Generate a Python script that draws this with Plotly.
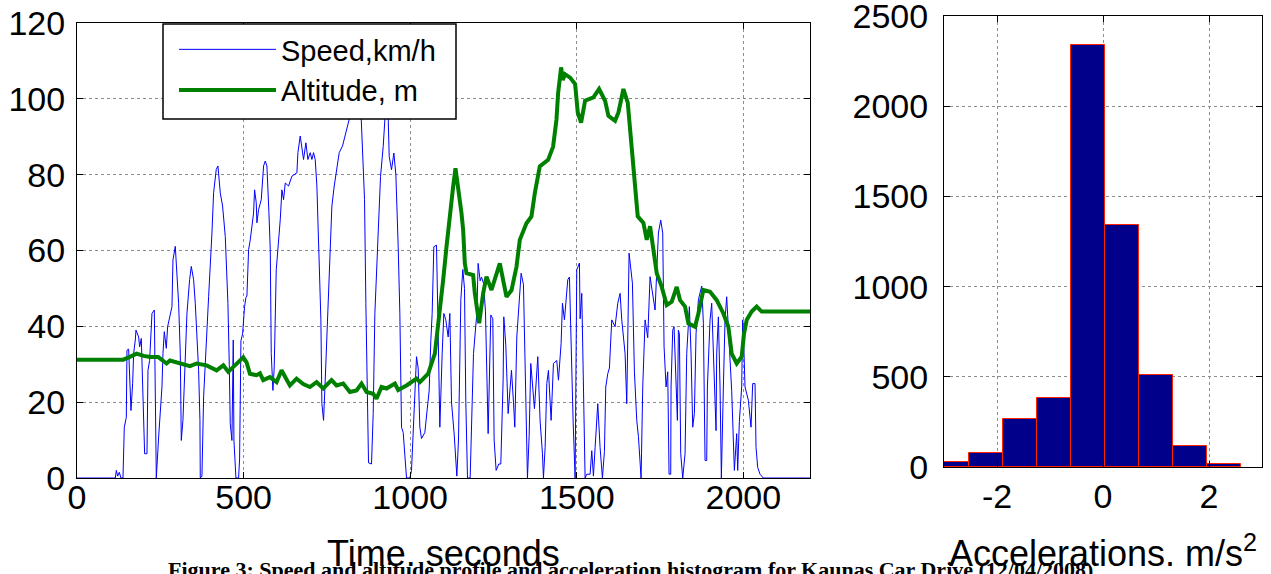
import plotly.graph_objects as go

# ---------------- data ----------------
speed_t = [0, 115, 118, 122, 127, 132, 138, 142, 148, 150, 155, 160, 162, 167, 170, 175, 177, 185, 188, 193, 196, 203, 210, 213, 218, 225, 232, 236, 238, 245, 255, 258, 262, 268, 272, 285, 288, 295, 300, 305, 310, 313, 318, 325, 330, 338, 343, 350, 355, 365, 369, 370, 375, 380, 388, 395, 405, 410, 418, 423, 430, 437, 445, 453, 457, 460, 465, 469, 471, 477, 485, 488, 492, 497, 503, 507, 510, 515, 520, 530, 533, 538, 540, 545, 553, 560, 565, 570, 576, 580, 583, 585, 588, 592, 598, 610, 615, 620, 625, 635, 645, 660, 663, 670, 675, 680, 687, 693, 700, 705, 710, 715, 720, 725, 732, 735, 740, 745, 753, 758, 765, 772, 780, 787, 797, 805, 813, 817, 825, 845, 853, 863, 867, 872, 875, 884, 889, 894, 904, 911, 919, 924, 930, 934, 937, 944, 951, 957, 964, 969, 974, 979, 989, 999, 1004, 1012, 1019, 1024, 1029, 1034, 1044, 1051, 1057, 1062, 1066, 1071, 1079, 1083, 1087, 1089, 1096, 1101, 1107, 1114, 1119, 1124, 1132, 1140, 1145, 1152, 1158, 1163, 1167, 1172, 1180, 1186, 1190, 1200, 1204, 1210, 1214, 1220, 1226, 1234, 1242, 1248, 1252, 1258, 1266, 1272, 1279, 1281, 1287, 1294, 1304, 1310, 1314, 1320, 1333, 1340, 1347, 1352, 1357, 1362, 1373, 1383, 1390, 1397, 1400, 1405, 1410, 1415, 1423, 1430, 1440, 1445, 1453, 1457, 1463, 1473, 1478, 1483, 1489, 1495, 1500, 1508, 1510, 1515, 1520, 1525, 1530, 1540, 1545, 1550, 1555, 1563, 1570, 1577, 1583, 1587, 1593, 1598, 1605, 1615, 1623, 1630, 1635, 1645, 1650, 1657, 1667, 1673, 1680, 1685, 1693, 1698, 1705, 1713, 1720, 1730, 1735, 1745, 1752, 1758, 1762, 1768, 1773, 1777, 1782, 1783, 1785, 1788, 1792, 1802, 1805, 1808, 1812, 1818, 1825, 1830, 1838, 1843, 1848, 1853, 1858, 1865, 1875, 1880, 1885, 1890, 1892, 1900, 1905, 1912, 1918, 1920, 1925, 1930, 1934, 1940, 1945, 1950, 1960, 1965, 1973, 1980, 1983, 1988, 1995, 1998, 2002, 2005, 2015, 2023, 2028, 2035, 2038, 2043, 2050, 2060, 2200]
speed_v = [0, 0, 2, 0.5, 1.5, 0, 0, 13.4, 16, 33.7, 34, 24, 17.8, 24.9, 32.8, 36.4, 39, 37.2, 34.6, 36.8, 27.5, 6.4, 6.4, 28.4, 31, 43.4, 44.3, 11.7, 0, 10.8, 24, 32.8, 38.6, 34.2, 39.9, 45.2, 57.5, 61.1, 54.9, 46.1, 32.8, 9.9, 15.2, 32.8, 43.4, 52.3, 55.8, 52.3, 46.1, 28.4, 15.2, 0, 0.5, 21.4, 37.2, 47.8, 64.6, 75.2, 81.4, 82.3, 75.2, 71.7, 63.7, 46, 30, 14.3, 9.9, 36.4, 10, 0, 0, 5, 36.2, 38, 45.2, 47.6, 48, 60.2, 62.8, 69.9, 76, 72.6, 67.3, 70.8, 73.4, 82.3, 83.6, 82.3, 70, 60.2, 32.8, 27.5, 23.1, 29.3, 54.9, 68.1, 76, 73.4, 77.8, 77, 79.6, 80.5, 85.8, 90.2, 87.6, 84, 88.4, 84, 85.8, 84, 85.8, 84, 77, 59.3, 41.7, 19.6, 15.2, 25.8, 45.2, 59.3, 71.7, 77, 82.3, 85.8, 87.6, 90.2, 92.9, 94.6, 99, 100, 95, 73.4, 46, 17.8, 4, 3.7, 17, 43.4, 65.4, 79.5, 87.4, 94.5, 99, 95, 84.8, 81.3, 85.7, 80, 61, 43.4, 13.4, 12, 0, 0, 2, 20, 32, 29, 13.4, 10.4, 12, 18, 23, 36.3, 43.4, 61, 61.4, 43.4, 25.8, 13.4, 32.8, 43.4, 41.7, 37.2, 43.4, 20, 11.6, 0.5, 10, 47, 55, 50, 20, 0, 0, 20, 32.8, 43.4, 56.6, 52, 53, 51.4, 44, 11.7, 43, 42, 10, 2, 3.7, 3.7, 25.8, 42.5, 35, 17, 28.4, 20, 13.4, 37.2, 54, 51, 15.2, 0, 11, 30.2, 18.3, 32, 15, 6.4, 0, 8, 24.9, 28.4, 15.2, 30.2, 31, 25.8, 35.5, 46.1, 41.7, 52.3, 53, 32.8, 15, 0, 54.9, 56.7, 42, 48.7, 20, 0, 1, 1, 7.2, 0.5, 8, 19.6, 8, 0, 7, 24, 27.5, 29, 41.7, 39.9, 46.1, 48.7, 41.7, 32.8, 19.6, 59.3, 51.4, 28, 15.2, 11, 0, 24, 41.7, 37, 53.1, 47.8, 44.3, 64.6, 68, 64.6, 34.6, 24, 28, 1, 1, 24, 30, 39, 39.9, 15.2, 39, 38, 6.4, 0, 6.4, 32.8, 45.2, 32.8, 13.4, 17, 38.1, 47, 50.6, 40.8, 4.6, 4.6, 24, 41.7, 46.1, 25.8, 12.5, 33, 42.5, 24, 0, 24, 41.7, 47.8, 32.8, 23, 2, 11.7, 2, 15, 24, 41.7, 32.8, 24, 20.5, 13.4, 24.9, 24.9, 8.1, 2.8, 1, 0, 0]

alt_t = [0, 139, 160, 179, 200, 219, 244, 269, 279, 309, 339, 359, 389, 419, 439, 454, 479, 499, 509, 519, 539, 549, 559, 579, 599, 614, 629, 639, 659, 679, 699, 719, 739, 764, 779, 799, 819, 839, 854, 869, 889, 899, 914, 929, 954, 964, 989, 1019, 1029, 1054, 1074, 1089, 1099, 1109, 1119, 1129, 1136, 1144, 1154, 1159, 1164, 1169, 1189, 1194, 1204, 1207, 1219, 1229, 1244, 1254, 1269, 1279, 1289, 1304, 1319, 1329, 1349, 1364, 1374, 1389, 1414, 1429, 1439, 1444, 1453, 1458, 1465, 1480, 1495, 1503, 1513, 1525, 1550, 1567, 1585, 1595, 1615, 1625, 1640, 1653, 1660, 1667, 1675, 1683, 1700, 1710, 1720, 1730, 1740, 1755, 1770, 1785, 1800, 1810, 1825, 1835, 1855, 1865, 1880, 1900, 1920, 1940, 1955, 1965, 1980, 1995, 2002, 2010, 2025, 2040, 2055, 2200]
alt_v = [31.2, 31.2, 32, 32.8, 32.2, 31.9, 31.9, 30.2, 31, 30.2, 29.5, 30.2, 29.7, 28.4, 29.7, 28, 30, 31.8, 30.5, 27.5, 27.1, 27.6, 25.8, 26.6, 25.3, 28.4, 26, 24.4, 26.2, 24.8, 24, 25.3, 23.6, 25.8, 24.4, 24.9, 22.7, 23.1, 24.9, 22.7, 22.2, 20.9, 24, 23.6, 24.9, 23.2, 24.4, 26.2, 25.3, 27.5, 32.8, 43.4, 52.2, 61, 69.8, 76.9, 81.7, 76.9, 69.8, 65.4, 56.6, 54, 53.5, 48.7, 43.4, 40.8, 48.7, 53.1, 49.6, 52.2, 56.6, 52.2, 47.8, 49.5, 55.7, 62.8, 67.2, 69, 75.1, 82.2, 83.9, 87.4, 94.5, 101.5, 108.3, 105, 106.5, 105.6, 103.9, 96.4, 93.7, 99.5, 100.4, 102.6, 99.5, 95.5, 94.2, 96.4, 102.6, 99, 92, 84.9, 77, 69, 67.3, 62.8, 66.4, 59.3, 54, 50.4, 45.6, 46.5, 50.4, 46.9, 45.2, 40.8, 39.9, 43.4, 49.6, 49.1, 46.9, 43.4, 39.9, 32.8, 30.2, 32, 38.1, 41.7, 43.9, 45.2, 43.9, 43.9]

acc_centers = [-2.841, -2.201, -1.561, -0.922, -0.282, 0.358, 0.998, 1.638, 2.277]
acc_counts = [26, 77, 267, 380, 2340, 1342, 508, 117, 14]
acc_bin_width = 0.64

time_ticks = [0, 500, 1000, 1500, 2000]
left_y_ticks = [0, 20, 40, 60, 80, 100, 120]
acc_ticks = [-2, 0, 2]
acc_tick_text = ["-2", "0", "2"]
count_ticks = [0, 500, 1000, 1500, 2000, 2500]

caption = ("Figure 3: Speed and altitude profile and acceleration histogram "
           "for Kaunas Car Drive (12/04/2008)")

# ---------------- figure ----------------
W, H = 1271, 574
FONT = "Liberation Sans, Arial, sans-serif"


def px(x):
    return x / W


def py(y):
    return (H - y) / H


fig = go.Figure()
fig.add_trace(go.Scatter(x=speed_t, y=speed_v, mode="lines", name="Speed,km/h",
                         line=dict(color="#0000FF", width=1), xaxis="x", yaxis="y"))
fig.add_trace(go.Scatter(x=alt_t, y=alt_v, mode="lines", name="Altitude, m",
                         line=dict(color="#008000", width=4), xaxis="x", yaxis="y"))
fig.add_trace(go.Bar(x=acc_centers, y=acc_counts, width=acc_bin_width,
                     marker=dict(color="#00008B", line=dict(color="#FF2000", width=1)),
                     showlegend=False, xaxis="x2", yaxis="y2"))

axis_common = dict(showline=True, linecolor="black", linewidth=1, mirror="ticks",
                   ticks="inside", ticklen=6, tickcolor="black", automargin=False,
                   ticklabeloverflow="allow",
                   showgrid=True, gridcolor="#8c8c8c", griddash="dot", gridwidth=1,
                   zeroline=False, tickfont=dict(family=FONT, size=34, color="black"))

fig.update_layout(
    width=W, height=H, margin=dict(l=0, r=0, t=0, b=0, autoexpand=False),
    paper_bgcolor="white", plot_bgcolor="white", bargap=0,
    xaxis=dict(domain=[px(77), px(810)], range=[0, 2200], tickvals=time_ticks,
               anchor="y", ticklabelstandoff=-11, **axis_common),
    yaxis=dict(domain=[py(478), py(23)], range=[0, 120], tickvals=left_y_ticks,
               anchor="x", ticklabelstandoff=4, **axis_common),
    xaxis2=dict(domain=[px(944), px(1262)], range=[-3, 3], tickvals=acc_ticks,
                ticktext=acc_tick_text, anchor="y2", ticklabelstandoff=-1, **axis_common),
    yaxis2=dict(domain=[py(467), py(16)], range=[0, 2500], tickvals=count_ticks,
                anchor="x2", ticklabelstandoff=8, **axis_common),
    legend=dict(x=px(174), y=py(24), xanchor="left", yanchor="top",
                bgcolor="rgba(0,0,0,0)", borderwidth=0,
                font=dict(family=FONT, size=29, color="black"), itemwidth=97,
                tracegroupgap=0),
    showlegend=True,
)

# legend frame (white box with black border, drawn above the traces)
fig.add_shape(type="rect", xref="paper", yref="paper", x0=px(163), x1=px(456),
              y0=py(119), y1=py(24), layer="above",
              line=dict(color="black", width=1.5), fillcolor="white")

fig.add_annotation(text="Time. seconds", x=px(443), y=py(553), xref="paper", yref="paper",
                   showarrow=False, xanchor="center", yanchor="middle",
                   font=dict(family=FONT, size=36, color="black"))
fig.add_annotation(text="Accelerations. m/s<sup>2</sup>", x=px(1103), y=py(551),
                   xref="paper", yref="paper", showarrow=False, xanchor="center",
                   yanchor="middle", font=dict(family=FONT, size=36, color="black"))
fig.add_annotation(text="<b>" + caption + "</b>", x=px(630), y=py(555),
                   xref="paper", yref="paper", showarrow=False, xanchor="center",
                   yanchor="top", font=dict(family="Liberation Serif, Times New Roman, serif",
                                            size=22, color="black"))

fig.write_html("out.html")
